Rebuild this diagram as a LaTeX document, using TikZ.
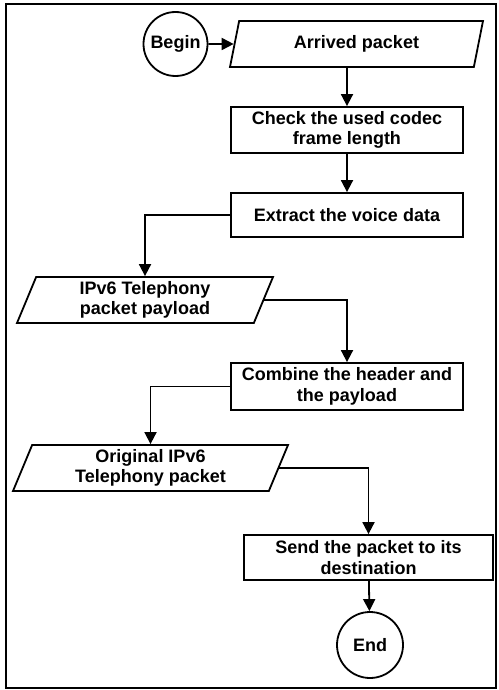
\documentclass[tikz,border=0pt]{standalone}
\usepackage{fontspec}
\setmainfont{Liberation Sans}
\usepackage{tikz}
\usetikzlibrary{arrows.meta, positioning, shapes.geometric}

\begin{document}
\begin{tikzpicture}[x=1pt, y=-1pt,
    every node/.style={font=\fontsize{18}{20.5}\selectfont\bfseries, align=center},
    terminal/.style={draw, circle, line width=1.8pt, minimum size=64pt, inner sep=0pt},
    process/.style={draw, rectangle, line width=1.8pt, minimum width=232pt, minimum height=46pt, inner sep=1pt},
    data/.style={draw, trapezium, trapezium left angle=64, trapezium right angle=116,
        trapezium stretches body, line width=1.8pt, minimum height=46pt, inner xsep=2pt, inner ysep=1pt},
    flow/.style={line width=1.8pt, -{Triangle[length=12pt, width=12pt]}}]
    \useasboundingbox (0,0) rectangle (498,690);
    \draw[line width=1.6pt] (6,4) rectangle (496,688);

    \node[terminal] (begin) at (175.5,44) {Begin};
    \node[data, minimum width=253pt] (arrived) at (356.5,44) {Arrived packet};
    \node[process] (check) at (347,130) {Check the used codec\\frame length};
    \node[process, minimum height=44pt] (extract) at (347,215) {Extract the voice data};
    \node[data, minimum width=256pt] (payload) at (145,300) {IPv6 Telephony\\packet payload};
    \node[process, minimum height=47pt] (combine) at (347,386.5) {Combine the header and\\the payload};
    \node[data, minimum width=275pt] (original) at (150.5,468) {Original IPv6\\Telephony packet};
    \node[process, minimum width=249pt, minimum height=45pt] (send) at (368.5,557.5) {Send the packet to its\\destination};
    \node[terminal, minimum size=66pt] (end) at (370,645) {End};

    \draw[flow] (begin) -- (arrived);
    \draw[flow] (arrived.south -| check.north) -- (check.north);
    \draw[flow] (check) -- (extract);
    \draw[flow] (extract.west) -| (payload.north);
    \draw[flow] (payload.east) -| (combine.north);
    \draw[flow] (combine.west) -| (original.north);
    \draw[flow] (original.east) -| (send.north);
    \draw[flow] (send) -- (end);
\end{tikzpicture}
\end{document}
